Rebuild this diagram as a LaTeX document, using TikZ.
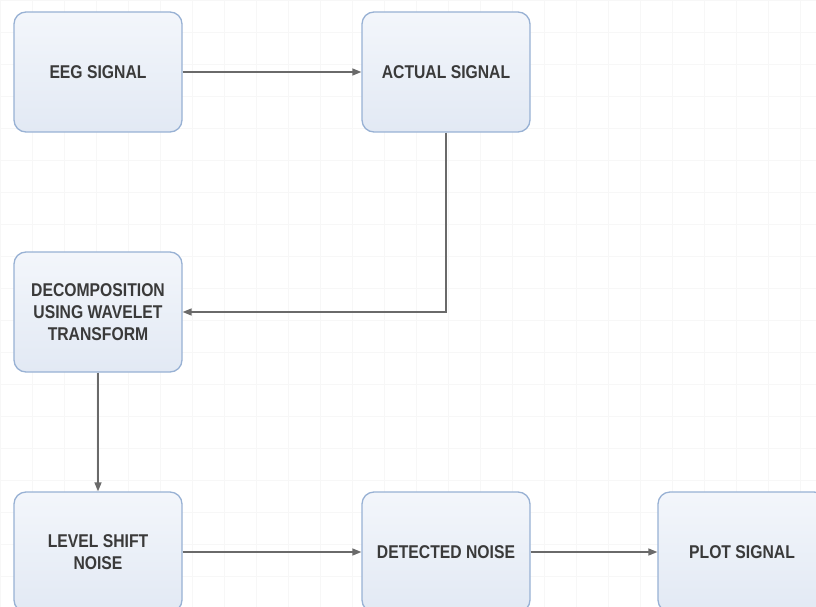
\documentclass[tikz,border=0pt]{standalone}
\usepackage{fontspec}
\setmainfont{Liberation Sans}[FakeStretch=0.85]
\usetikzlibrary{arrows.meta,positioning}

\definecolor{boxtop}{HTML}{F3F6FB}
\definecolor{boxbot}{HTML}{E2E9F4}
\definecolor{boxline}{HTML}{98B1D4}
\definecolor{textgray}{HTML}{3A3A3A}
\definecolor{linegray}{HTML}{6A6A6A}
\definecolor{gridgray}{HTML}{F7F7F7}

\tikzset{
  blockbox/.style={draw=boxline, line width=1.3pt, rounded corners=12pt,
    top color=boxtop, bottom color=boxbot, minimum width=168pt,
    minimum height=120pt, inner sep=0pt, align=center, text=textgray,
    font=\bfseries\fontsize{18.5}{22}\selectfont},
  flow/.style={draw=linegray, line width=1.4pt, -{Triangle[length=9pt,width=7pt]}}
}

\begin{document}
\begin{tikzpicture}[x=1pt, y=1pt]
  \fill [white] (0, -607) rectangle (816, 0);
  \useasboundingbox (0, -607) rectangle (816, 0);
  \draw [gridgray, step=32pt] (0, -607) grid (816, 0);

  % blocks
  \node [blockbox] (eeg) at (98, -72) {EEG SIGNAL};
  \node [blockbox] (actual) at (446, -72) {ACTUAL SIGNAL};
  \node [blockbox] (decomp) at (98, -312) {DECOMPOSITION\\USING WAVELET\\TRANSFORM};
  \node [blockbox] (level) at (98, -552) {LEVEL SHIFT\\NOISE};
  \node [blockbox] (detected) at (446, -552) {DETECTED NOISE};
  \node [blockbox] (plot) at (742, -552) {PLOT SIGNAL};

  % connectors
  \draw [flow] (eeg) -- (actual);
  \draw [flow] (actual.south) |- (decomp.east);
  \draw [flow] (decomp) -- (level);
  \draw [flow] (level) -- (detected);
  \draw [flow] (detected) -- (plot);
\end{tikzpicture}
\end{document}
